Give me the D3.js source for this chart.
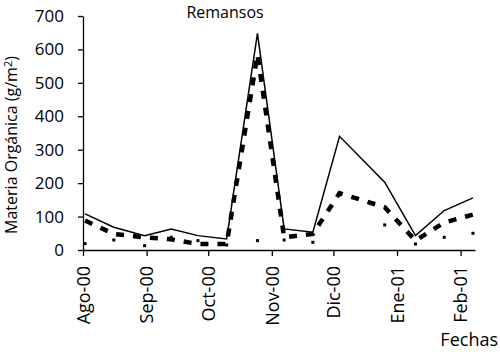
<!DOCTYPE html>
<html>
  <head>
  <title>Remansos</title>
  </head>
  <body>
  <style>
    body, html {
      margin: 0;
      padding: 0;
      background: #fff;
    }
    text {
      font-family: "Open Sans", sans-serif;
      fill: #000;
    }
  </style>

  <svg id="svg" width="500" height="352"></svg>

  <script src="https://cdn.jsdelivr.net/npm/d3@7"></script>
  <script>
    // sampling dates (roughly every two weeks)
    const fechas = ['2000-08-02', '2000-08-16', '2000-08-31', '2000-09-13', '2000-09-26',
      '2000-10-10', '2000-10-25', '2000-11-07', '2000-11-21', '2000-12-04',
      '2000-12-26', '2001-01-10', '2001-01-24', '2001-02-07']
    // three series of organic matter (g/m2)
    const serieSolida = [108, 68, 43, 63, 43, 33, 648, 63, 53, 340, 203, 43, 118, 156]
    const serieGuiones = [88, 48, 38, 32, 18, 18, 585, 38, 48, 170, 128, 28, 82, 106]
    const seriePuntos = [19, 30, 13, 38, 28, 15, 28, 30, 23, 165, 75, 18, 38, 50]
    const yTicks = [0, 100, 200, 300, 400, 500, 600, 700]
    const xTickLabels = ['Ago-00', 'Sep-00', 'Oct-00', 'Nov-00', 'Dic-00', 'Ene-01', 'Feb-01']
    const xTickDates = ['2000-08-01', '2000-09-01', '2000-10-01', '2000-11-01',
      '2000-12-01', '2001-01-01', '2001-02-01']

    const parseTime = d3.timeParse('%Y-%m-%d')
    const dates = fechas.map(parseTime)
    const tickDates = xTickDates.map(parseTime)

    const plotLeft = 83
    const plotRight = 475
    const plotTop = 16
    const plotBottom = 250

    const xScale = d3.scaleTime()
      .domain([parseTime('2000-08-01'), parseTime('2001-02-08')])
      .range([plotLeft, plotRight])
    const yScale = d3.scaleLinear()
      .domain([0, 700])
      .range([plotBottom, plotTop])

    const svg = d3.select('#svg')

    // axes
    const leftAxis = d3.axisLeft(yScale)
      .tickValues(yTicks)
      .tickSize(5)
      .tickSizeOuter(0)
      .tickPadding(14)
    svg.append('g')
      .attr('transform', `translate(${plotLeft}, 0)`)
      .call(leftAxis)
      .call(g => g.selectAll('text').style('font-size', '17px').style('font-family', '"Open Sans", sans-serif'))

    const bottomAxis = d3.axisBottom(xScale)
      .tickValues(tickDates)
      .tickSize(6)
      .tickSizeOuter(0)
      .tickFormat((d, i) => xTickLabels[i])
    const xg = svg.append('g')
      .attr('transform', `translate(0, ${plotBottom})`)
      .call(bottomAxis)
    xg.selectAll('text')
      .style('font-size', '18px')
      .style('font-family', '"Open Sans", sans-serif')
      .attr('text-anchor', 'end')
      .attr('transform', 'rotate(-90)')
      .attr('x', -16)
      .attr('y', 0)
      .attr('dy', '0.35em')
    svg.selectAll('.domain, .tick line').attr('stroke', '#000').attr('stroke-width', 1.3)

    // line generators
    const line = (vals) => d3.line()
      .x((d, i) => xScale(dates[i]))
      .y(d => yScale(d))(vals)

    svg.append('path')
      .attr('d', line(serieSolida))
      .attr('fill', 'none')
      .attr('stroke', '#000')
      .attr('stroke-width', 1.5)

    svg.append('path')
      .attr('d', line(serieGuiones))
      .attr('fill', 'none')
      .attr('stroke', '#000')
      .attr('stroke-width', 4.5)
      .attr('stroke-dasharray', '8,9')

    svg.selectAll('.punto')
      .data(seriePuntos)
      .join('rect')
      .attr('class', 'punto')
      .attr('x', (d, i) => xScale(dates[i]) - 1.5)
      .attr('y', d => yScale(d) - 1.5)
      .attr('width', 3)
      .attr('height', 3)
      .attr('fill', '#000')

    // titles
    svg.append('text')
      .attr('x', 225)
      .attr('y', 18)
      .attr('text-anchor', 'middle')
      .style('font-size', '16px')
      .text('Remansos')

    svg.append('text')
      .attr('x', 498)
      .attr('y', 346)
      .attr('text-anchor', 'end')
      .style('font-size', '18px')
      .text('Fechas')

    svg.append('text')
      .attr('transform', 'translate(17, 145) rotate(-90)')
      .attr('text-anchor', 'middle')
      .style('font-size', '16px')
      .html('Materia Orgánica (g/m<tspan dy="-5" font-size="11px">2</tspan><tspan dy="5">)</tspan>')
  </script>
  </body>
</html>
